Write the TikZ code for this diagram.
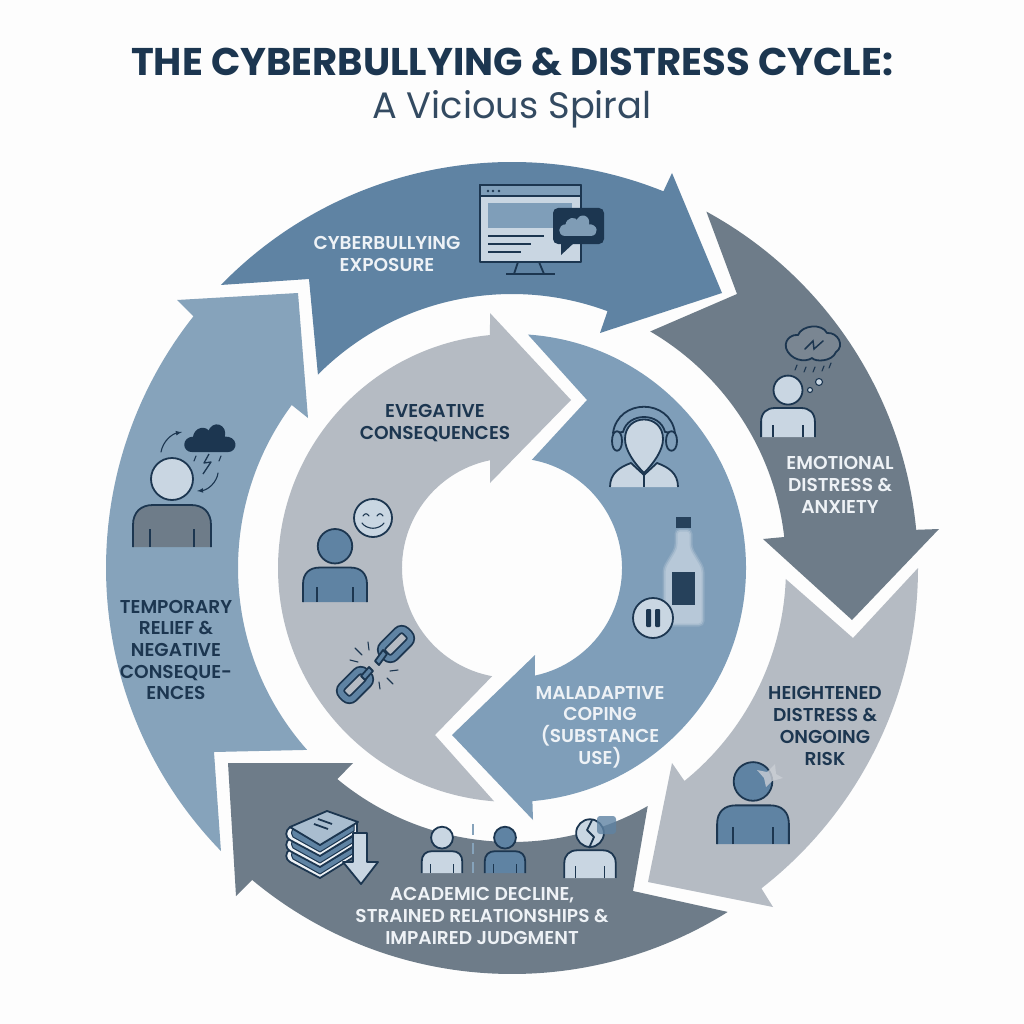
\documentclass[tikz,border=0pt]{standalone}
\usepackage{fontspec}
\setmainfont{Poppins}
\newfontfamily\labelfont{Poppins SemiBold}
\definecolor{pagecol}{HTML}{FDFDFD}
\definecolor{navy}{HTML}{1C3650}
\definecolor{steel}{HTML}{5F83A3}
\definecolor{slate}{HTML}{6E7C89}
\definecolor{mist}{HTML}{B5BBC3}
\definecolor{sky}{HTML}{7F9EB9}
\definecolor{skylt}{HTML}{86A3BB}
\definecolor{pale}{HTML}{C9D6E2}
\definecolor{offwhite}{HTML}{EEF2F6}
\tikzset{
   icon/.style={navy,line width=1.8pt,line join=round},
   thinicon/.style={navy,line width=1.1pt,line cap=round},
   whitelabel/.style={text=offwhite,align=center,font=\labelfont\fontsize{18.6}{21.7}\selectfont},
   navylabel/.style={text=navy,align=center,font=\labelfont\fontsize{18.6}{21.7}\selectfont}
}
\newcommand{\personicon}[5]{
   \begin{scope}[shift={(#1,#2)},scale=#3]
      \filldraw [icon,fill=#5] (-39,0) -- (-39,-22) .. controls (-39,-35) and (-31,-42) .. (-19,-42) -- (19,-42) .. controls (31,-42) and (39,-35) .. (39,-22) -- (39,0);
      \draw [icon] (-22,0) -- (-22,-18);
      \draw [icon] (22,0) -- (22,-18);
      \filldraw [icon,fill=#4] (0,-68) circle (21);
   \end{scope}
}
\newcommand{\cloudicon}[5]{
   \begin{scope}[shift={(#1,#2)},scale=#3]
      \filldraw [icon,draw=#5,fill=#4] (-0.7,0.45) .. controls (-1.1,0.45) and (-1.1,-0.1) .. (-0.65,-0.1) .. controls (-0.6,-0.5) and (-0.15,-0.55) .. (-0.05,-0.3) .. controls (0.1,-0.8) and (0.7,-0.6) .. (0.55,-0.1) .. controls (1.1,-0.15) and (1.1,0.45) .. (0.7,0.45) -- cycle;
   \end{scope}
}
\newcommand{\bookicon}[1]{
   \filldraw [icon,fill=offwhite] (290,#1) .. controls (285,#1+4) and (285,#1+10) .. (290,#1+13) -- (320,#1+29) -- (357,#1+6) -- (357,#1-5) -- (320,#1+18) -- cycle;
   \filldraw [icon,line width=1pt,fill=steel] (293,#1+2) .. controls (291,#1+5) and (291,#1+8) .. (293,#1+10) -- (320,#1+25) -- (354,#1+4) -- (354,#1-2) -- (320,#1+18) -- cycle;
}
\begin{document}
\begin{tikzpicture}[x=1pt,y=-1pt]
   \useasboundingbox (0,0) rectangle (1024,1024);
   \fill [pagecol] (0,0) rectangle (1024,1024);
   \coordinate (c) at (512,568);
   \node (title) at (512,62) {\fontsize{38.6}{46}\selectfont\bfseries\color{navy} THE CYBERBULLYING \& DISTRESS CYCLE:};
   \node (subtitle) at (512,109) {\fontsize{36.8}{44}\selectfont\color{navy!90!white} A Vicious Spiral};
   \fill [steel] ([shift={(224.2:406)}]c) arc [start angle=224.2,end angle=291.9,radius=406] -- (672,173) -- (722,293) -- (600,333) -- ([shift={(290.4:274)}]c) arc [start angle=290.4,end angle=224.9,radius=274] -- (309,279) -- cycle;
   \fill [slate] ([shift={(298.6:406)}]c) arc [start angle=298.6,end angle=354.6,radius=406] -- (939,529) -- (852,620) -- (763,539) -- ([shift={(353.5:274)}]c) arc [start angle=353.5,end angle=300.3,radius=274] -- (737,294) -- cycle;
   \fill [mist] ([shift={(0:406)}]c) arc [start angle=0,end angle=52.1,radius=406] -- (773,907) -- (648,882) -- (672,763) -- ([shift={(51:274)}]c) arc [start angle=51,end angle=2.3,radius=274] -- (853,638) -- cycle;
   \fill [slate] ([shift={(57.9:406)}]c) arc [start angle=57.9,end angle=129.8,radius=406] -- (236,896) -- (228,763) -- (353,763) -- ([shift={(129.6:274)}]c) arc [start angle=129.6,end angle=60.3,radius=274] -- (633,891) -- cycle;
   \fill [skylt] ([shift={(135.8:406)}]c) arc [start angle=135.8,end angle=218.3,radius=406] -- (177,300) -- (298,293) -- (308,418) -- ([shift={(216.5:274)}]c) arc [start angle=216.5,end angle=138.4,radius=274] -- (214,752) -- cycle;
   \fill [mist] ([shift={(94.4:234)}]c) arc [start angle=94.4,end angle=264.6,radius=234] -- (490,313) -- (571,400) -- (490,483) -- ([shift={(258.5:110)}]c) arc [start angle=258.5,end angle=100.4,radius=110] -- (435,735) -- cycle;
   \fill [sky] ([shift={(273.9:234)}]c) arc [start angle=273.9,end angle=445,radius=234] -- (533,820) -- (452,735) -- (535,655) -- ([shift={(78:110)}]c) arc [start angle=78,end angle=-79.6,radius=110] -- (587,400) -- cycle;

   \node [whitelabel] (exposure) at (387,254) {CYBERBULLYING\\EXPOSURE};
   \node [navylabel] (evegative) at (435,423) {EVEGATIVE\\CONSEQUENCES};
   \node [whitelabel] (emotional) at (840,485) {EMOTIONAL\\DISTRESS \&\\ANXIETY};
   \node [navylabel] (heightened) at (825,726) {HEIGHTENED\\DISTRESS \&\\ONGOING\\RISK};
   \node [whitelabel] (maladaptive) at (600,727) {MALADAPTIVE\\COPING\\(SUBSTANCE\\USE)};
   \node [whitelabel] (academic) at (482,916) {ACADEMIC DECLINE,\\STRAINED RELATIONSHIPS \&\\IMPAIRED JUDGMENT};
   \node [navylabel] (temporary) at (176,650) {TEMPORARY\\RELIEF \&\\NEGATIVE\\CONSEQUE-\\ENCES};

   \filldraw [icon,fill=pale] (480,185) rectangle (581,262);
   \filldraw [icon,fill=sky] (480,185) rectangle (581,196);
   \fill [navy] (488,191) circle (1.3) (493,191) circle (1.3) (499,191) circle (1.3);
   \fill [sky] (488,203) rectangle (572,228);
   \draw [icon] (488,236) -- (544,236);
   \draw [icon] (488,244) -- (531,244);
   \draw [icon] (488,252) -- (521,252);
   \draw [icon] (518,262) -- (514,274);
   \draw [icon] (539,262) -- (544,274);
   \draw [icon] (506,274) -- (555,274);
   \fill [navy,rounded corners=5] (553,208) rectangle (604,244);
   \fill [navy] (561,240) -- (561,255) -- (575,242) -- cycle;
   \cloudicon{578}{227}{18}{steel!80!white}{steel!80!white}

   \personicon{788}{437}{0.69}{pale}{pale}
   \filldraw [icon,fill=slate!92!white] (786,348) .. controls (784,338) and (794,334) .. (798,335) .. controls (802,325) and (822,323) .. (827,333) .. controls (838,332) and (845,346) .. (836,352) .. controls (832,362) and (815,362) .. (812,358) .. controls (805,363) and (790,360) .. (786,348) -- cycle;
   \draw [thinicon,line width=1.5pt] (805,349) -- (813,341) -- (814,349) -- (823,341);
   \draw [thinicon] (797,365) -- (795,370);
   \draw [thinicon] (806,367) -- (804,372);
   \draw [thinicon] (815,367) -- (813,372);
   \draw [thinicon] (824,366) -- (822,371);
   \draw [thinicon] (831,363) -- (829,368);
   \filldraw [thinicon,fill=pale] (819,382) circle (3.5);
   \filldraw [thinicon,fill=pale] (810,390) circle (2.5);

   \personicon{753}{844}{0.92}{steel}{steel}
   \fill [mist!70!white,opacity=0.8] (757,770) -- (767,772) -- (775,764) -- (776,774) -- (783,778) -- (772,781) -- (766,787) -- (764,778) -- cycle;

   \personicon{442}{873}{0.52}{pale}{pale}
   \personicon{505}{873}{0.52}{steel}{steel}
   \draw [skylt,line width=1.5pt,dash pattern=on 11pt off 8pt] (473,824) -- (473,873);
   \personicon{590}{878}{0.66}{pale}{pale}
   \draw [icon] (592,820) -- (587,830) -- (594,837) -- (589,848);
   \fill [steel,opacity=0.8,rounded corners=3] (597,816) rectangle (616,834);

   \bookicon{849}
   \bookicon{838}
   \bookicon{827}
   \filldraw [icon,fill=pale!70!steel] (327,811) -- (358,822) -- (320,845) -- (290,827) -- cycle;
   \draw [icon] (318,819) -- (332,824);
   \draw [icon] (314,824) -- (328,829);
   \filldraw [icon,fill=pale] (353,833) -- (367,833) -- (367,862) -- (378,862) -- (361,884) -- (343,862) -- (353,862) -- cycle;

   \personicon{172}{547}{1}{pale}{slate}
   \cloudicon{210}{440}{25}{navy}{navy}
   \draw [icon,line width=1.3pt] (209,454) -- (204,463) -- (211,462) -- (203,474);
   \draw [thinicon] (196,456) -- (194,461);
   \draw [thinicon] (221,456) -- (219,461);
   \draw [thinicon,-latex] (161,452) .. controls (163,441) and (172,434) .. (182,432);
   \draw [thinicon,-latex] (218,473) .. controls (217,482) and (208,490) .. (197,491);

   \personicon{335}{602}{0.82}{steel}{steel}
   \filldraw [icon,fill=pale] (373,518) circle (19);
   \draw [thinicon] (363,516) .. controls (365,513) and (367,513) .. (369,516);
   \draw [thinicon] (377,516) .. controls (379,513) and (381,513) .. (383,516);
   \draw [thinicon] (362,523) .. controls (367,530) and (379,530) .. (384,523);

   \begin{scope}[shift={(396,644)},rotate=45]
      \draw [navy,line width=1.8pt,double=steel,double distance=5.5pt,rounded corners=6pt] (-16,-8) rectangle (16,8);
   \end{scope}
   \begin{scope}[shift={(355,685)},rotate=45]
      \draw [navy,line width=1.8pt,double=steel,double distance=5.5pt,rounded corners=6pt] (-16,-8) rectangle (16,8);
   \end{scope}
   \filldraw [icon,fill=steel] (383,650) -- (387,654) -- (379,665) -- (375,661) -- cycle;
   \filldraw [icon,fill=steel] (369,667) -- (373,671) -- (365,680) -- (361,676) -- cycle;
   \draw [thinicon] (355,648) -- (362,655);
   \draw [thinicon] (368,642) -- (369,650);
   \draw [thinicon] (350,660) -- (358,662);
   \draw [thinicon] (398,670) -- (390,671);
   \draw [thinicon] (387,678) -- (393,684);
   \draw [thinicon] (379,682) -- (380,689);

   \filldraw [icon,fill=pale] (610,487) .. controls (610,473) and (620,467) .. (631,463) -- (644,475) -- (657,463) .. controls (668,467) and (678,473) .. (678,487);
   \draw [icon] (644,473) -- (644,487);
   \filldraw [icon,fill=sky] (613,433) .. controls (618,398) and (670,398) .. (675,433) -- (665,432) .. controls (660,412) and (628,412) .. (623,432) -- cycle;
   \filldraw [icon,fill=sky] (612,441) .. controls (612,428) and (622,428) .. (622,441) .. controls (622,454) and (612,454) .. (612,441) -- cycle;
   \filldraw [icon,fill=sky] (666,441) .. controls (666,428) and (677,428) .. (677,441) .. controls (677,454) and (666,454) .. (666,441) -- cycle;
   \filldraw [icon,fill=pale] (644,473) .. controls (634,463) and (625,450) .. (625,439) .. controls (625,413) and (663,413) .. (663,439) .. controls (663,450) and (654,463) .. (644,473) -- cycle;

   \fill [pale!75!sky,draw=pale!40!sky,draw opacity=0.6,line width=3pt,rounded corners=4pt] (676,530) -- (691,530) -- (691,548) -- (703,568) -- (703,625) -- (664,625) -- (664,568) -- (676,548) -- cycle;
   \fill [navy!90!sky] (676,517) rectangle (691,528);
   \fill [navy!90!sky] (672,572) rectangle (695,605);
   \filldraw [icon,fill=pale] (653,618) circle (20);
   \fill [navy,rounded corners=1] (646,609) rectangle (651,627);
   \fill [navy,rounded corners=1] (655,609) rectangle (660,627);
\end{tikzpicture}
\end{document}
